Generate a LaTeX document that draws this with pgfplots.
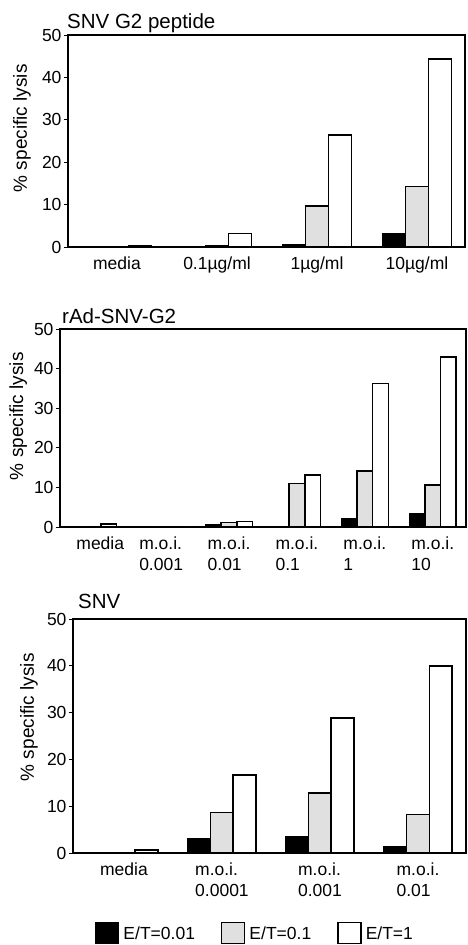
\documentclass[border=0pt]{standalone}
\usepackage{pgfplots}
\pgfplotsset{compat=1.18}
\usepackage{fontspec}
\setmainfont{Liberation Sans}
\definecolor{stip}{gray}{0.88}
\pgfplotsset{
  boxlegend/.style={legend image code/.code={\draw[##1] (0pt,-10pt) rectangle (23pt,11pt);}},
  bk/.style={ybar, bar width=0.23, bar shift=-0.23, fill=black, draw=black, line width=1.5pt, boxlegend},
  gr/.style={ybar, bar width=0.23, bar shift=0, fill=stip, draw=black, line width=1.5pt, boxlegend},
  wh/.style={ybar, bar width=0.23, bar shift=0.23, fill=white, draw=black, line width=1.5pt, boxlegend},
  panel/.style={
    scale only axis,
    axis line style={line width=1.4pt},
    ymin=0, ymax=50, ytick={0,10,20,30,40,50},
    ytick pos=left,
    xtick=data,
    xtick style={draw=none},
    major tick length=4pt,
    tick align=outside,
    ytick style={line width=1pt, black},
    ticklabel style={font=\fontsize{17.5}{21}\selectfont},
    yticklabel style={xshift=1pt},
    /pgf/number format/assume math mode=true,
    xticklabel style={align=left, yshift=-2pt},
    ylabel={\% specific lysis},
    ylabel style={font=\fontsize{19}{21}\selectfont, anchor=center},
  },
}
\begin{document}
\begin{tikzpicture}
\useasboundingbox (0,0) rectangle (467pt,-945pt);
% Panel 1
\begin{axis}[panel, at={(68pt,-247pt)}, anchor=south west, width=397pt, height=212pt,
  xmin=-0.49, xmax=3.48,
  xticklabels={media, 0.1µg/ml, 1µg/ml, 10µg/ml},
  ylabel style={at={(axis description cs:-0.116,0.56)}}]
\addplot[bk] coordinates {(0,0) (1,0) (2,0.5) (3,3.1)};
\addplot[gr] coordinates {(0,0) (1,0.3) (2,9.7) (3,14.3)};
\addplot[wh] coordinates {(0,0.3) (1,3.2) (2,26.4) (3,44.3)};
\end{axis}
\node[anchor=base west, inner sep=0pt, font=\fontsize{20.5}{24}\selectfont] at (67pt,-28pt) {SNV G2 peptide};
% Panel 2
\begin{axis}[panel, at={(60pt,-527pt)}, anchor=south west, width=406pt, height=198pt,
  xmin=-0.49, xmax=5.49,
  xticklabels={{\hspace*{14pt}media}, {m.o.i.\\0.001}, {m.o.i.\\0.01}, {m.o.i.\\0.1}, {m.o.i.\\1}, {m.o.i.\\10}},
  ylabel style={at={(axis description cs:-0.103,0.56)}}]
\addplot[bk] coordinates {(0,0) (1,0) (2,0.5) (3,0) (4,2.1) (5,3.4)};
\addplot[gr] coordinates {(0,0) (1,0) (2,1.2) (3,11.0) (4,14.2) (5,10.6)};
\addplot[wh] coordinates {(0,0.8) (1,0) (2,1.4) (3,13.1) (4,36.3) (5,42.9)};
\end{axis}
\node[anchor=base west, inner sep=0pt, font=\fontsize{20.5}{24}\selectfont] at (62pt,-323pt) {rAd-SNV-G2};
% Panel 3
\begin{axis}[panel, at={(73pt,-853pt)}, anchor=south west, width=393pt, height=234pt,
  xmin=-0.52, xmax=3.49,
  xticklabels={media, {m.o.i.\\0.0001}, {m.o.i.\\0.001}, {m.o.i.\\0.01}},
  ylabel style={at={(axis description cs:-0.112,0.58)}},
  legend style={at={(axis description cs:0.463,-0.342)}, anchor=center, draw=none,
    font=\fontsize{17.5}{20}\selectfont, legend columns=3,
    /tikz/every odd column/.append style={column sep=2pt},
    /tikz/every even column/.append style={column sep=24pt}},
  legend cell align=left]
\addplot[bk] coordinates {(0,0) (1,3.1) (2,3.4) (3,1.4)};
\addlegendentry{E/T=0.01}
\addplot[gr] coordinates {(0,0) (1,8.7) (2,12.8) (3,8.2)};
\addlegendentry{E/T=0.1}
\addplot[wh] coordinates {(0,0.6) (1,16.7) (2,28.8) (3,40.0)};
\addlegendentry{E/T=1}
\end{axis}
\node[anchor=base west, inner sep=0pt, font=\fontsize{20.5}{24}\selectfont] at (78pt,-608pt) {SNV};
\end{tikzpicture}
\end{document}
